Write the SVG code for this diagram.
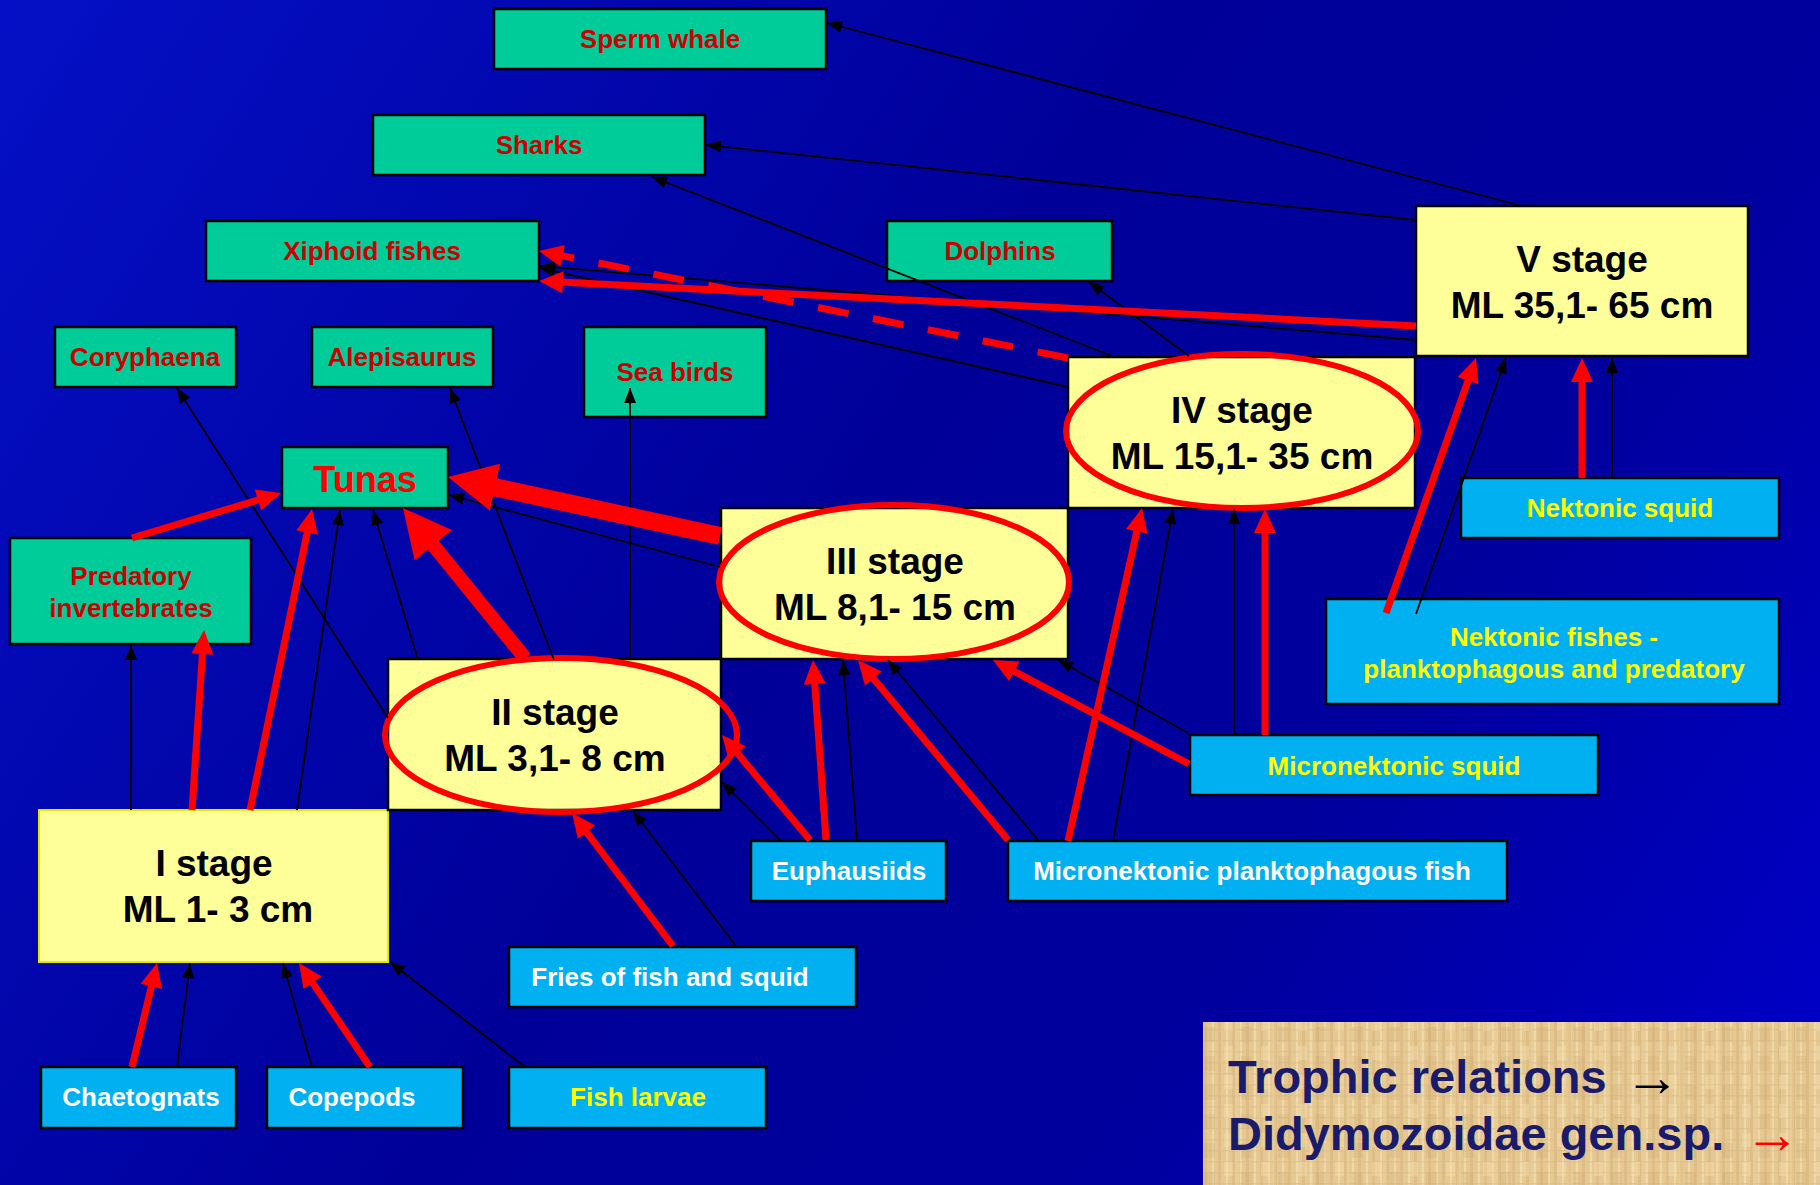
<svg xmlns="http://www.w3.org/2000/svg" width="1820" height="1185" viewBox="0 0 1820 1185">
<defs>
<linearGradient id="bg" gradientUnits="userSpaceOnUse" x1="0" y1="0" x2="1820" y2="1185">
<stop offset="0" stop-color="#0510C6"/>
<stop offset="0.45" stop-color="#000099"/>
<stop offset="0.72" stop-color="#00009E"/>
<stop offset="1" stop-color="#0000CC"/>
</linearGradient>
<pattern id="tex" width="14" height="11" patternUnits="userSpaceOnUse">
<rect width="14" height="11" fill="#E6C992"/>
<rect x="0" width="3" height="11" fill="#D6B47C" opacity="0.55"/>
<rect x="8" width="2" height="11" fill="#F3DFB3" opacity="0.7"/>
<rect y="6" width="14" height="1.5" fill="#D9BC86" opacity="0.5"/>
</pattern>
<pattern id="tex2" width="37" height="29" patternUnits="userSpaceOnUse">
<rect x="3" y="2" width="9" height="14" fill="#F5E2B8" opacity="0.35"/>
<rect x="20" y="12" width="11" height="15" fill="#CDA86E" opacity="0.25"/>
<rect x="14" y="0" width="4" height="29" fill="#F0D9A8" opacity="0.25"/>
</pattern>
<marker id="mb" markerUnits="userSpaceOnUse" markerWidth="15" markerHeight="12" refX="15" refY="6" orient="auto" overflow="visible"><path d="M0,0 L15,6 L0,12 z" fill="#000"/></marker>
<marker id="mr" markerUnits="userSpaceOnUse" markerWidth="24" markerHeight="22" refX="12" refY="11" orient="auto" overflow="visible"><path d="M0,0 L24,11 L0,22 z" fill="#FF0000"/></marker>
<marker id="mR" markerUnits="userSpaceOnUse" markerWidth="48" markerHeight="48" refX="24" refY="24" orient="auto" overflow="visible"><path d="M0,0 L48,24 L0,48 z" fill="#FF0000"/></marker>
<style>
.g{fill:#00CC99;stroke:#000;stroke-width:2.5}
.y{fill:#FFFF99;stroke:#000;stroke-width:2.5}
.y1{fill:#FFFF99;stroke:#E6E600;stroke-width:2}
.b{fill:#00B0F0;stroke:#000;stroke-width:2.5}
text{font-family:"Liberation Sans",Arial,sans-serif;font-weight:bold;text-anchor:middle}
.tg{font-size:26px;fill:#CC0000}
.tw{font-size:26px;fill:#FFFFFF}
.ty{font-size:26px;fill:#FFFF00}
.ts{font-size:37px;fill:#000}
.el{fill:none;stroke:#FF0000;stroke-width:6}
.k{stroke:#000;stroke-width:1.8;fill:none;marker-end:url(#mb)}
.r{stroke:#FF0000;stroke-width:7;fill:none;marker-end:url(#mr)}
.rd{stroke:#FF0000;stroke-width:7;fill:none;stroke-dasharray:31 25;marker-end:url(#mr)}
.rb{stroke:#FF0000;fill:none;marker-end:url(#mR)}
.lg{font-size:47px;fill:#1B1B6B;text-anchor:start}
.ar{font-size:56px;font-weight:normal;text-anchor:start}
</style>
</defs>
<rect width="1820" height="1185" fill="url(#bg)"/>

<g id="sperm-whale"><rect class="g" x="494" y="9" width="332" height="60"/><text class="tg" x="660" y="48">Sperm whale</text></g>
<g id="sharks"><rect class="g" x="373" y="115" width="332" height="60"/><text class="tg" x="539" y="154">Sharks</text></g>
<g id="xiphoid"><rect class="g" x="206" y="221" width="333" height="60"/><text class="tg" x="372" y="260">Xiphoid fishes</text></g>
<g id="dolphins"><rect class="g" x="887" y="221" width="225" height="60"/><text class="tg" x="1000" y="260">Dolphins</text></g>
<g id="coryphaena"><rect class="g" x="55" y="327" width="181" height="60"/><text class="tg" x="145" y="366">Coryphaena</text></g>
<g id="alepisaurus"><rect class="g" x="312" y="327" width="181" height="60"/><text class="tg" x="402" y="366">Alepisaurus</text></g>
<g id="sea-birds"><rect class="g" x="584" y="327" width="182" height="90"/><text class="tg" x="675" y="381">Sea birds</text></g>
<g id="tunas"><rect class="g" x="282" y="447" width="166" height="61"/><text x="365" y="492" style="font-size:36px;fill:#FF0000">Tunas</text></g>
<g id="predatory"><rect class="g" x="10" y="538" width="241" height="106"/><text class="tg" x="131" y="585">Predatory</text><text class="tg" x="131" y="617">invertebrates</text></g>

<g id="stage-1"><rect class="y1" x="39" y="810" width="349" height="152"/><text class="ts" x="214" y="876">I stage</text><text class="ts" x="218" y="922">ML 1- 3 cm</text></g>
<g id="stage-2"><rect class="y" x="388" y="659" width="333" height="151"/><ellipse class="el" cx="561" cy="735" rx="176" ry="77"/><text class="ts" x="555" y="725">II stage</text><text class="ts" x="555" y="771">ML 3,1- 8 cm</text></g>
<g id="stage-3"><rect class="y" x="721" y="508" width="347" height="151"/><ellipse class="el" cx="894" cy="582" rx="175" ry="77"/><text class="ts" x="895" y="574">III stage</text><text class="ts" x="895" y="620">ML 8,1- 15 cm</text></g>
<g id="stage-4"><rect class="y" x="1068" y="357" width="347" height="151"/><ellipse class="el" cx="1242" cy="431" rx="176" ry="77"/><text class="ts" x="1242" y="423">IV stage</text><text class="ts" x="1242" y="469">ML 15,1- 35 cm</text></g>
<g id="stage-5"><rect class="y" x="1416" y="206" width="332" height="150"/><text class="ts" x="1582" y="272">V stage</text><text class="ts" x="1582" y="318">ML 35,1- 65 cm</text></g>

<g id="nektonic-squid"><rect class="b" x="1461" y="478" width="318" height="60"/><text class="ty" x="1620" y="517">Nektonic squid</text></g>
<g id="nektonic-fishes"><rect class="b" x="1326" y="599" width="453" height="105"/><text class="ty" x="1554" y="646">Nektonic fishes -</text><text class="ty" x="1554" y="678">planktophagous and predatory</text></g>
<g id="micronektonic-squid"><rect class="b" x="1190" y="735" width="408" height="60"/><text class="ty" x="1394" y="775">Micronektonic squid</text></g>
<g id="micronektonic-fish"><rect class="b" x="1008" y="841" width="499" height="60"/><text class="tw" x="1252" y="880">Micronektonic planktophagous fish</text></g>
<g id="euphausiids"><rect class="b" x="751" y="841" width="195" height="60"/><text class="tw" x="849" y="880">Euphausiids</text></g>
<g id="fries"><rect class="b" x="509" y="947" width="347" height="60"/><text class="tw" x="670" y="986">Fries of fish and squid</text></g>
<g id="chaetognats"><rect class="b" x="41" y="1067" width="195" height="61"/><text class="tw" x="141" y="1106">Chaetognats</text></g>
<g id="copepods"><rect class="b" x="267" y="1067" width="196" height="61"/><text class="tw" x="352" y="1106">Copepods</text></g>
<g id="fish-larvae"><rect class="b" x="509" y="1067" width="257" height="61"/><text class="ty" x="638" y="1106">Fish larvae</text></g>

<g id="connectors">
<path class="k" d="M1522,206 L827,23"/>
<path class="k" d="M1416,220 L706,145"/>
<path class="k" d="M1112,356 L652,177"/>
<path class="k" d="M1189,356 L1089,282"/>
<path class="k" d="M1416,340 L540,266"/>
<path class="k" d="M1068,387 L540,268"/>
<path class="k" d="M720,567 L449,495"/>
<path class="k" d="M418,660 L373,510"/>
<path class="k" d="M554,660 L450,388"/>
<path class="k" d="M388,718 L177,388"/>
<path class="k" d="M630,660 L630,388"/>
<path class="k" d="M131,810 L131,645"/>
<path class="k" d="M297,810 L340,510"/>
<path class="k" d="M780,840 L722,782"/>
<path class="k" d="M857,840 L843,660"/>
<path class="k" d="M1038,840 L888,660"/>
<path class="k" d="M1113,841 L1173,509"/>
<path class="k" d="M1188,733 L1058,660"/>
<path class="k" d="M1234,735 L1234,509"/>
<path class="k" d="M1416,614 L1506,358"/>
<path class="k" d="M1612,478 L1612,358"/>
<path class="k" d="M177,1067 L190,963"/>
<path class="k" d="M312,1067 L283,963"/>
<path class="k" d="M525,1067 L390,962"/>
<path class="k" d="M736,946 L633,811"/>

<path class="r" d="M1416,326 L551,281.6"/>
<path class="rd" d="M1068,358 L550.8,253.4"/>
<path class="rb" style="stroke-width:18" d="M720,536 L471.5,482.1"/>
<path class="rb" style="stroke-width:14" d="M525,658 L418.1,526.6"/>
<path class="r" d="M192,810 L203.2,642"/>
<path class="r" d="M250,810 L309.6,520.8"/>
<path class="r" d="M132,538 L269.5,496.5"/>
<path class="r" d="M810,840 L729.7,744.2"/>
<path class="r" d="M826,840 L813.9,672"/>
<path class="r" d="M1008,840 L865.7,669.2"/>
<path class="r" d="M1068,841 L1139.4,519.7"/>
<path class="r" d="M1189,764 L1003.6,665.6"/>
<path class="r" d="M1265,735 L1265,521"/>
<path class="r" d="M1386,613 L1472,369.3"/>
<path class="r" d="M1582,478 L1582,370"/>
<path class="r" d="M132,1067 L154.2,974.7"/>
<path class="r" d="M370,1067 L305.8,972.9"/>
<path class="r" d="M673,946 L579.3,822.6"/>
</g>

<g id="legend">
<rect x="1203" y="1022" width="617" height="163" fill="url(#tex)"/>
<rect x="1203" y="1022" width="617" height="163" fill="url(#tex2)"/>
<text class="lg" x="1228" y="1093">Trophic relations</text>
<text class="ar" x="1624" y="1096" fill="#000">→</text>
<text class="lg" x="1228" y="1150">Didymozoidae gen.sp.</text>
<text class="ar" x="1744" y="1153" fill="#FF0000">→</text>
</g>
</svg>
